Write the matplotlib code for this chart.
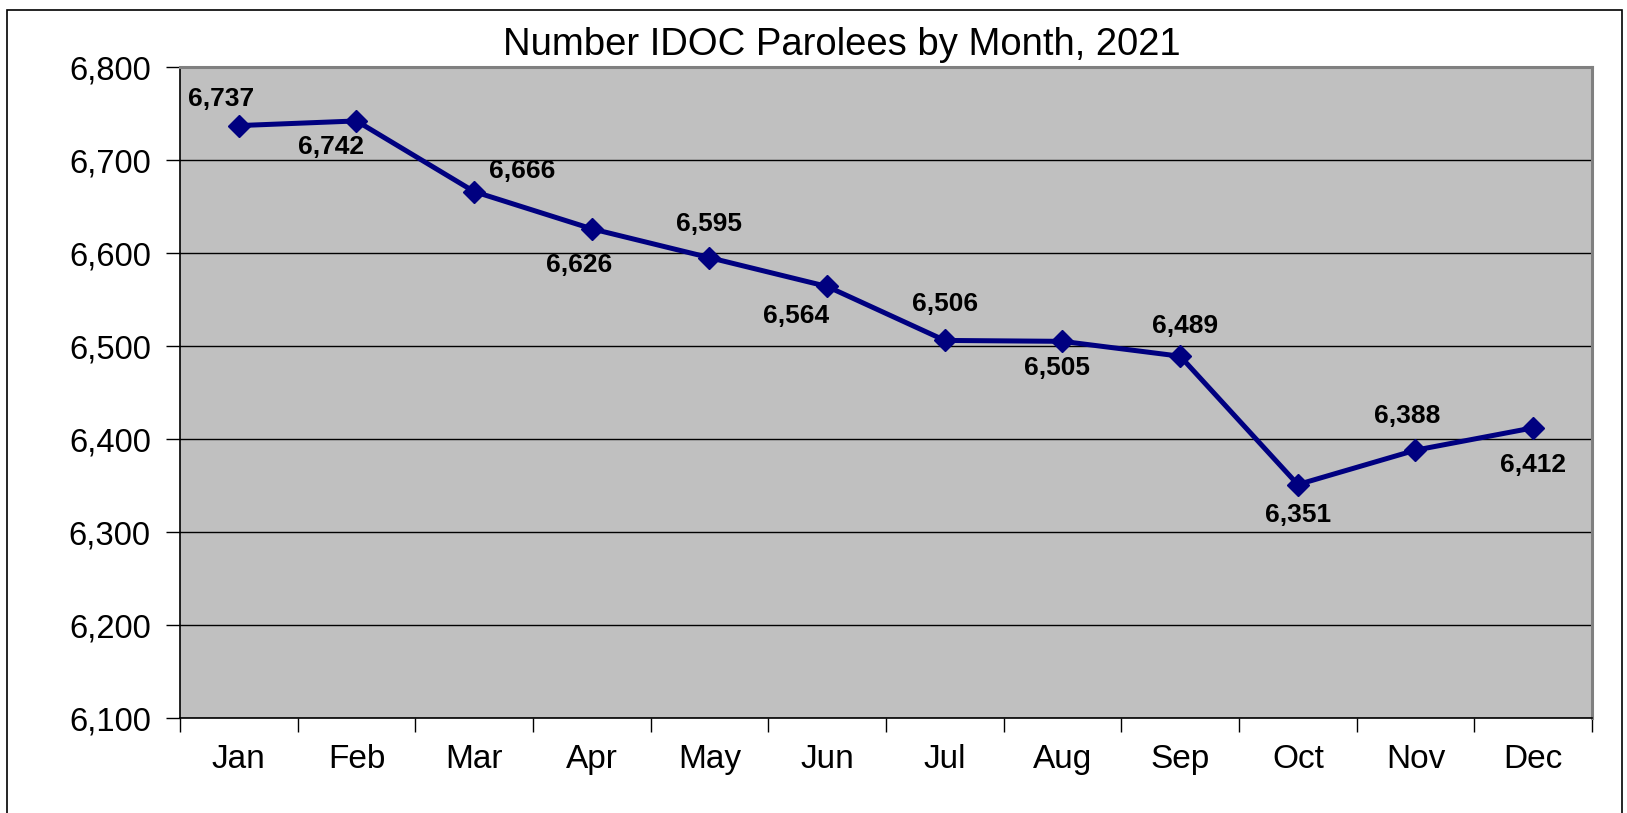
import matplotlib
matplotlib.use("Agg")
import matplotlib.pyplot as plt
from matplotlib.patches import Rectangle
from matplotlib.ticker import FuncFormatter, MultipleLocator

months = ["Jan", "Feb", "Mar", "Apr", "May", "Jun", "Jul", "Aug", "Sep", "Oct", "Nov", "Dec"]
parolees = [6737, 6742, 6666, 6626, 6595, 6564, 6506, 6505, 6489, 6351, 6388, 6412]
# label offsets in points (dx, dy)
label_offsets = [(-12.7, 19.4), (-18, -18.7), (34.4, 14.9), (-9, -26), (0, 23.9), (-22.4, -21.6),
                 (0, 26), (-3.7, -19.4), (3.7, 21.6), (0, -21.6), (-6, 24.7), (0, -26.9)]

plt.rcParams['font.family'] = ['Liberation Sans', 'DejaVu Sans']

fig = plt.figure(figsize=(16.27, 8.13), dpi=100)
fig.patch.set_facecolor("white")

# outer chart border
fig.patches.append(Rectangle((7 / 1627, -0.05), (1622 - 7) / 1627, 1.05 - 10 / 813,
                             transform=fig.transFigure, fill=False, edgecolor="black",
                             linewidth=1.2, zorder=0))

ax = fig.add_axes([180 / 1627, 1 - 718 / 813, (1592 - 180) / 1627, (718 - 67) / 813])
ax.set_facecolor("#C0C0C0")

x = list(range(len(months)))
ax.plot(x, parolees, color="#000080", linewidth=3.6, marker="D", markersize=11,
        markeredgecolor="#000080", markerfacecolor="#000080", zorder=3, clip_on=False)

for xi, v, (dx, dy) in zip(x, parolees, label_offsets):
    ax.annotate(f"{v:,}", (xi, v), xytext=(dx, dy), textcoords="offset points",
                ha="center", va="center", fontsize=19, fontweight="bold", color="black")

ax.set_xlim(-0.5, len(months) - 0.5)
ax.set_ylim(6100, 6800)
ax.yaxis.set_major_locator(MultipleLocator(100))
ax.yaxis.set_major_formatter(FuncFormatter(lambda v, p: f"{int(v):,}"))
ax.grid(axis="y", color="black", linewidth=1.0, zorder=1)
ax.set_axisbelow(True)

ax.set_xticks([i + 0.5 for i in range(-1, len(months))])
ax.set_xticklabels([])
ax.set_xticks(x, minor=True)
ax.set_xticklabels(months, minor=True)
ax.tick_params(axis="x", which="major", length=10, width=1, direction="out", color="black")
ax.tick_params(axis="x", which="minor", length=0, pad=19, labelsize=24)
ax.tick_params(axis="y", length=10, width=1, direction="out", pad=11, labelsize=23.6)

for s in ["left", "bottom"]:
    ax.spines[s].set_color("black")
    ax.spines[s].set_linewidth(1.2)
for s in ["top", "right"]:
    ax.spines[s].set_color("#808080")
    ax.spines[s].set_linewidth(2.2)

fig.text(842 / 1627, 1 - 45 / 813, "Number IDOC Parolees by Month, 2021", ha="center", va="center",
         fontsize=27.5, color="black")

fig.savefig("out.png", dpi=100, facecolor="white")
